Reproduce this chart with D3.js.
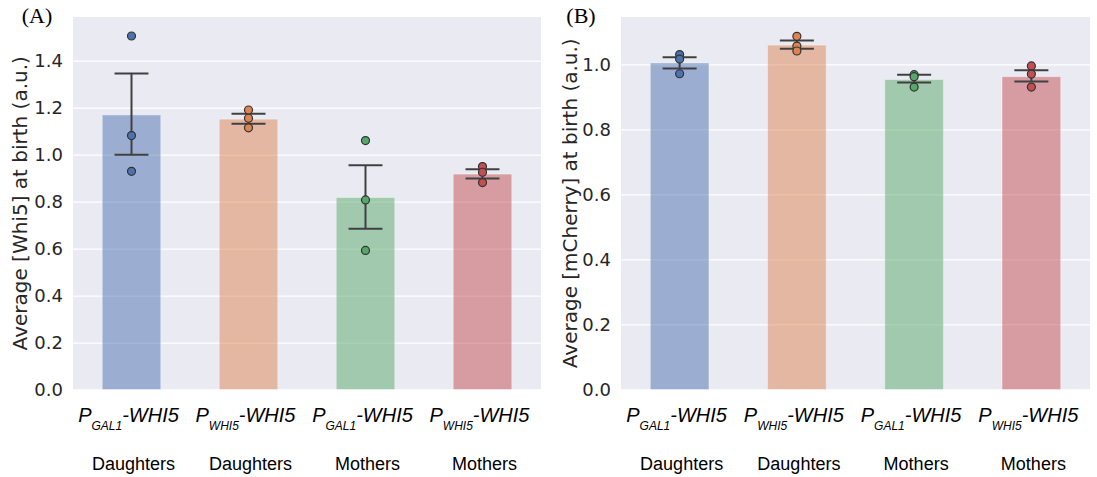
<!DOCTYPE html>
<html>
<head>
<meta charset="utf-8">
<script src="https://cdn.jsdelivr.net/npm/d3@7"></script>
<style>
  body { margin: 0; background: #fff; }
  svg { display: block; }
</style>
</head>
<body>
<div id="chart-area"><svg></svg></div>
<script>
const promoters = ['GAL1', 'WHI5', 'GAL1', 'WHI5'];
const groups = ['Daughters', 'Daughters', 'Mothers', 'Mothers'];
const barColors = ['#4C72B0', '#DD8452', '#55A868', '#C44E52'];

// panel A: [Whi5]
const whi5Means = [1.169, 1.151, 0.817, 0.917];
const whi5ErrLow = [1.000, 1.131, 0.684, 0.898];
const whi5ErrHigh = [1.345, 1.174, 0.955, 0.938];
const whi5Points = [[1.505, 1.081, 0.929], [1.190, 1.155, 1.114], [1.060, 0.807, 0.592], [0.949, 0.925, 0.881]];
const whi5Ticks = [0, 0.2, 0.4, 0.6, 0.8, 1.0, 1.2, 1.4];

// panel B: [mCherry]
const mcherryMeans = [1.004, 1.059, 0.953, 0.962];
const mcherryErrLow = [0.987, 1.048, 0.944, 0.947];
const mcherryErrHigh = [1.022, 1.073, 0.968, 0.982];
const mcherryPoints = [[1.030, 1.016, 0.971], [1.086, 1.056, 1.041], [0.968, 0.962, 0.930], [0.995, 0.970, 0.930]];
const mcherryTicks = [0, 0.2, 0.4, 0.6, 0.8, 1.0];

const chartSize = { width: 1097, height: 477 };
const svg = d3.select('#chart-area svg')
    .attr('width', chartSize.width)
    .attr('height', chartSize.height);

const drawPanel = (cfg) => {
    const { left, right, top, bottom } = cfg.box;
    const ids = promoters.map((p, i) => i);

    const x = d3.scaleBand().domain(ids).range([left, right]).padding(0);
    const y = d3.scaleLinear().domain([0, cfg.yMax]).range([bottom, top]);

    const g = svg.append('g');

    g.append('rect')
        .attr('x', left).attr('y', top)
        .attr('width', right - left).attr('height', bottom - top)
        .attr('fill', '#EAEAF2');

    // grid
    g.append('g')
        .attr('transform', `translate(${left},0)`)
        .call(d3.axisLeft(y).tickValues(cfg.ticks).tickSize(-(right - left)).tickFormat(''))
        .call(a => a.select('.domain').remove())
        .call(a => a.selectAll('line').attr('stroke', '#fff').attr('stroke-width', 1.3));

    // tick labels
    g.append('g')
        .attr('transform', `translate(${left},0)`)
        .call(d3.axisLeft(y).tickValues(cfg.ticks).tickSize(0).tickPadding(10).tickFormat(d3.format('.1f')))
        .call(a => a.select('.domain').remove())
        .call(a => a.selectAll('text')
            .attr('font-family', 'DejaVu Sans')
            .attr('font-size', 18)
            .attr('fill', '#262626'));

    const barW = x.bandwidth() * 0.5;
    const cx = i => x(i) + x.bandwidth() / 2;

    g.selectAll('.bar').data(ids).enter().append('rect')
        .attr('class', 'bar')
        .attr('x', i => cx(i) - barW / 2)
        .attr('y', i => y(cfg.means[i]))
        .attr('width', barW)
        .attr('height', i => y(0) - y(cfg.means[i]))
        .attr('fill', i => barColors[i])
        .attr('fill-opacity', 0.5)
        .attr('stroke', '#fff')
        .attr('stroke-opacity', 0.35)
        .attr('stroke-width', 1);

    const capW = x.bandwidth() * 0.145;
    const eb = g.selectAll('.err').data(ids).enter().append('g').attr('class', 'err')
        .attr('stroke', '#404040').attr('stroke-width', 2);
    eb.append('line')
        .attr('x1', cx).attr('x2', cx)
        .attr('y1', i => y(cfg.errLow[i])).attr('y2', i => y(cfg.errHigh[i]));
    eb.append('line')
        .attr('x1', i => cx(i) - capW).attr('x2', i => cx(i) + capW)
        .attr('y1', i => y(cfg.errLow[i])).attr('y2', i => y(cfg.errLow[i]));
    eb.append('line')
        .attr('x1', i => cx(i) - capW).attr('x2', i => cx(i) + capW)
        .attr('y1', i => y(cfg.errHigh[i])).attr('y2', i => y(cfg.errHigh[i]));

    const pts = [];
    cfg.points.forEach((arr, i) => arr.forEach(v => pts.push({ i, v })));
    g.selectAll('.pt').data(pts).enter().append('circle')
        .attr('class', 'pt')
        .attr('cx', d => cx(d.i))
        .attr('cy', d => y(d.v))
        .attr('r', 4)
        .attr('fill', d => barColors[d.i])
        .attr('stroke', '#333')
        .attr('stroke-width', 1.2);

    // category labels
    const lab1 = g.selectAll('.lab1').data(ids).enter().append('text')
        .attr('class', 'lab1')
        .attr('x', i => cx(i) - 3)
        .attr('y', 422)
        .attr('text-anchor', 'middle')
        .attr('font-family', 'Liberation Sans')
        .attr('font-style', 'italic')
        .attr('font-size', 20)
        .attr('fill', '#000');
    lab1.append('tspan').text('P');
    lab1.append('tspan').attr('font-size', 12).attr('dy', 8).text(i => promoters[i]);
    lab1.append('tspan').attr('dy', -8).text('-WHI5');

    g.selectAll('.lab2').data(ids).enter().append('text')
        .attr('class', 'lab2')
        .attr('x', i => cx(i) + 2)
        .attr('y', 470)
        .attr('text-anchor', 'middle')
        .attr('font-family', 'Liberation Sans')
        .attr('font-size', 18)
        .attr('fill', '#000')
        .text(i => groups[i]);

    // y label
    g.append('text')
        .attr('transform', `translate(${cfg.labelX},${(top + bottom) / 2}) rotate(-90)`)
        .attr('text-anchor', 'middle')
        .attr('dominant-baseline', 'central')
        .attr('font-family', 'DejaVu Sans')
        .attr('font-size', 20)
        .attr('fill', '#262626')
        .text(cfg.yLabel);

    // panel letter
    g.append('text')
        .attr('x', cfg.letterX)
        .attr('y', 23)
        .attr('text-anchor', 'middle')
        .attr('font-family', 'Liberation Serif')
        .attr('font-size', 22)
        .attr('fill', '#000')
        .text(cfg.letter);
};

drawPanel({
    box: { left: 73, right: 541, top: 17, bottom: 389.5 },
    yMax: 1.586,
    ticks: whi5Ticks,
    means: whi5Means, errLow: whi5ErrLow, errHigh: whi5ErrHigh, points: whi5Points,
    yLabel: 'Average [Whi5] at birth (a.u.)',
    labelX: 20,
    letter: '(A)',
    letterX: 37
});

drawPanel({
    box: { left: 621, right: 1090, top: 17, bottom: 389.5 },
    yMax: 1.1455,
    ticks: mcherryTicks,
    means: mcherryMeans, errLow: mcherryErrLow, errHigh: mcherryErrHigh, points: mcherryPoints,
    yLabel: 'Average [mCherry] at birth (a.u.)',
    labelX: 570,
    letter: '(B)',
    letterX: 581
});
</script>
</body>
</html>
